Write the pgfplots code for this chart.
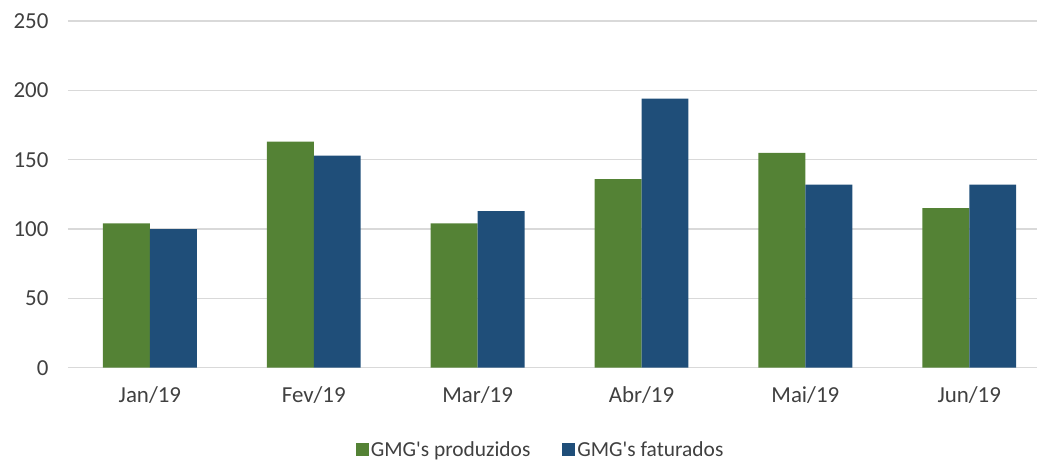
\documentclass[border=0pt]{standalone}
\usepackage{fontspec}
\setmainfont{Carlito}
\usepackage{pgfplots}
\pgfplotsset{compat=1.18}
\definecolor{cgreen}{HTML}{548235}
\definecolor{cblue}{HTML}{1F4E79}
\definecolor{cgrid}{HTML}{D9D9D9}
\definecolor{ctxt}{HTML}{404040}
\begin{document}
\begin{tikzpicture}
\begin{axis}[name=ax, at={(0,0)}, anchor=south west,
  scale only axis, width=970bp, height=347bp,
  xmin=-0.5, xmax=5.415, ymin=0, ymax=250,
  ybar=0pt, bar width=0.2866,
  xtick={0,1,2,3,4,5},
  xticklabels={Jan/19,Fev/19,Mar/19,Abr/19,Mai/19,Jun/19},
  ytick={0,50,100,150,200,250},
  ymajorgrids, grid style={cgrid, line width=1.5bp},
  axis line style={draw=none}, major tick length=0pt,
  tick label style={font=\fontsize{23}{27}\selectfont, text=ctxt},
  /pgf/number format/assume math mode=true,
  yticklabel style={xshift=-16bp},
  xticklabel style={yshift=-15bp},
  legend style={at={(axis description cs:0.4876,-0.236)}, anchor=center, draw=none,
    font=\fontsize{21.5}{26}\selectfont, text=ctxt, legend columns=2,
    /tikz/every even column/.append style={column sep=30bp}},
  legend image code/.code={\fill[#1] (0bp,-6.5bp) rectangle (13bp,6.5bp);},
]
\addplot[fill=cgreen, draw=none] coordinates {(0,104) (1,163) (2,104) (3,136) (4,155) (5,115)};
\addplot[fill=cblue, draw=none] coordinates {(0,100) (1,153) (2,113) (3,194) (4,132) (5,132)};
\addlegendentry{GMG\textquotesingle s produzidos}
\addlegendentry{GMG\textquotesingle s faturados}
\end{axis}
\path (ax.south west) ++(-68bp,-92bp) rectangle ++(1038bp,460bp);
\end{tikzpicture}
\end{document}
